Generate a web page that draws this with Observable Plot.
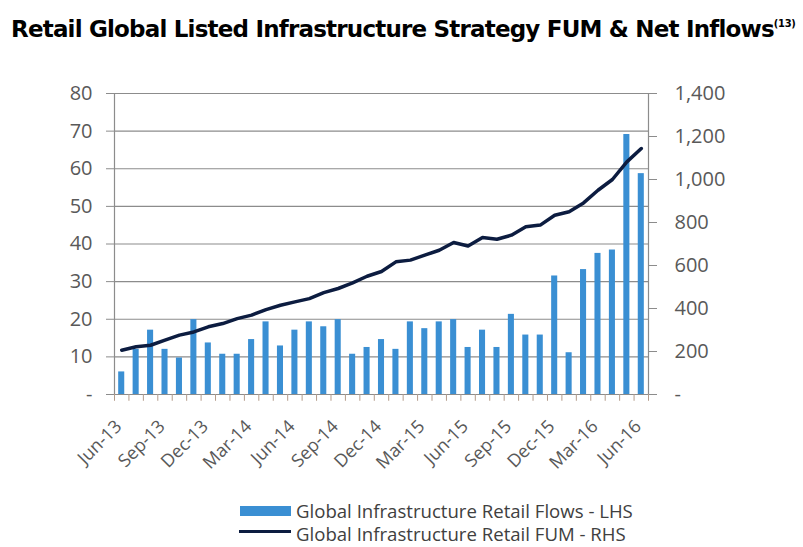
<!DOCTYPE html>
<html>
<head>
<meta charset="utf-8">
<script src="https://cdn.jsdelivr.net/npm/d3@7"></script>
<script src="https://cdn.jsdelivr.net/npm/@observablehq/plot@0.6"></script>
<style>
  html, body { margin: 0; padding: 0; background: white; }
  #wrap { position: relative; width: 803px; height: 547px; overflow: hidden; background: white; }
  #title { position: absolute; left: 11px; top: 11px; font-family: "DejaVu Sans"; font-weight: bold; font-size: 23px; line-height: 28px; color: #000; white-space: nowrap; }
  #title sup { font-family: "DejaVu Sans Condensed", "DejaVu Sans"; font-size: 11px; letter-spacing: -0.3px; position: relative; top: -1px; margin-left: 0px; }
  .unit { position: absolute; font-family: "Open Sans"; font-weight: bold; font-size: 16px; color: #404040; }
  #chart { position: absolute; left: 0; top: 50px; }
  .leg { position: absolute; font-family: "Open Sans"; font-size: 18.6px; line-height: 19px; color: #404040; white-space: nowrap; }
</style>
</head>
<body>
<div id="wrap">
  <div id="title"><span id="tmain">Retail Global Listed Infrastructure Strategy FUM &amp; Net Inflows</span><sup>(13)</sup></div>
  <div class="unit" style="left:18px; top:102px;">$M</div>
  <div class="unit" style="left:748px; top:100px;">$M</div>
  <div id="chart"></div>
  <div style="position:absolute; left:240px; top:506px; width:51px; height:10px; background:#3a8fd3;"></div>
  <div class="leg" style="left:296px; top:501px;">Global Infrastructure Retail Flows - LHS</div>
  <div style="position:absolute; left:239px; top:530px; width:52px; height:3px; background:#0c1c40;"></div>
  <div class="leg" style="left:296px; top:524px;">Global Infrastructure Retail FUM - RHS</div>
</div>
<script>
const months = ["Jun-13","Jul-13","Aug-13","Sep-13","Oct-13","Nov-13","Dec-13",
  "Jan-14","Feb-14","Mar-14","Apr-14","May-14","Jun-14","Jul-14","Aug-14","Sep-14","Oct-14","Nov-14","Dec-14",
  "Jan-15","Feb-15","Mar-15","Apr-15","May-15","Jun-15","Jul-15","Aug-15","Sep-15","Oct-15","Nov-15","Dec-15",
  "Jan-16","Feb-16","Mar-16","Apr-16","May-16","Jun-16"];
const flows = [6.0,12.0,17.1,12.0,9.7,19.9,13.7,10.7,10.7,14.6,19.3,12.9,17.1,19.3,18.0,19.9,10.7,12.5,14.6,
  12.0,19.3,17.5,19.3,19.9,12.5,17.1,12.5,21.3,15.8,15.8,31.5,11.1,33.2,37.5,38.4,69.1,58.7];
const fum = [206,222,229,253,276,291,315,330,353,369,395,415,431,446,474,493,519,550,572,
  617,625,648,671,707,691,730,722,741,780,788,834,850,891,950,1000,1082,1144];
const xTickLabels = ["Jun-13","Sep-13","Dec-13","Mar-14","Jun-14","Sep-14","Dec-14","Mar-15","Jun-15","Sep-15","Dec-15","Mar-16","Jun-16"];
const leftTicks = [0,10,20,30,40,50,60,70,80];
const rightTicks = [0,200,400,600,800,1000,1200,1400];

// fit title main text to the reference width with letter spacing
const tmain = document.getElementById("tmain");
const targetW = 762;
const w0 = tmain.getBoundingClientRect().width;
const nChars = tmain.textContent.length;
tmain.style.letterSpacing = ((targetW - w0) / nChars).toFixed(3) + "px";

const data = months.map((m, i) => ({month: m, flow: flows[i], fum: fum[i]}));
const k = 80 / 1400;
const W = 803, ML = 114, MR = 155;
const step = (W - ML - MR) / months.length;

const chart = Plot.plot({
  width: W, height: 430,
  marginTop: 43, marginBottom: 86, marginLeft: ML, marginRight: MR,
  style: {fontFamily: "Open Sans", fontSize: "20px", color: "#595959", background: "white", overflow: "visible"},
  x: {type: "band", domain: months, paddingInner: 0.58, paddingOuter: 0.29, align: 0.5, round: false},
  y: {domain: [0, 80]},
  marks: [
    Plot.gridY({ticks: leftTicks.filter(d => d > 0), stroke: "#8c8c8c", strokeOpacity: 1, strokeWidth: 1.2}),
    Plot.ruleY([0], {stroke: "#8c8c8c", strokeWidth: 1.2}),
    Plot.barY(data, {x: "month", y: "flow", fill: "#3a8fd3"}),
    Plot.ruleX(months, {x: d => d, dx: -step / 2, y1: 0, y2: -1.8, stroke: "#b39b8a", strokeWidth: 1}),
    Plot.ruleX([months[months.length - 1]], {x: d => d, dx: step / 2, y1: 0, y2: -1.8, stroke: "#b39b8a", strokeWidth: 1}),
    Plot.ruleX([months[0]], {x: d => d, dx: -step / 2, y1: 0, y2: 80, stroke: "#8c8c8c", strokeWidth: 1.2}),
    Plot.ruleX([months[months.length - 1]], {x: d => d, dx: step / 2, y1: 0, y2: 80, stroke: "#8c8c8c", strokeWidth: 1.2}),
    Plot.lineY(data, {x: "month", y: d => d.fum * k, stroke: "#0c1c40", strokeWidth: 3.5, strokeLinejoin: "round", strokeLinecap: "round"}),
    Plot.axisY({anchor: "left", ticks: leftTicks, tickFormat: d => d === 0 ? "-" : String(d), tickSize: 8, tickPadding: 14, stroke: "#8c8c8c", label: null}),
    Plot.axisY({anchor: "right", ticks: rightTicks.map(v => v * k), tickFormat: v => { const r = Math.round(v / k); return r === 0 ? "-" : d3.format(",")(r); }, tickSize: 8, tickPadding: 18, stroke: "#8c8c8c", label: null}),
    Plot.axisX({ticks: xTickLabels, tickRotate: -45, tickSize: 0, tickPadding: 29, dx: -3, fontSize: 18, label: null})
  ]
});
document.getElementById("chart").appendChild(chart);
</script>
</body>
</html>
